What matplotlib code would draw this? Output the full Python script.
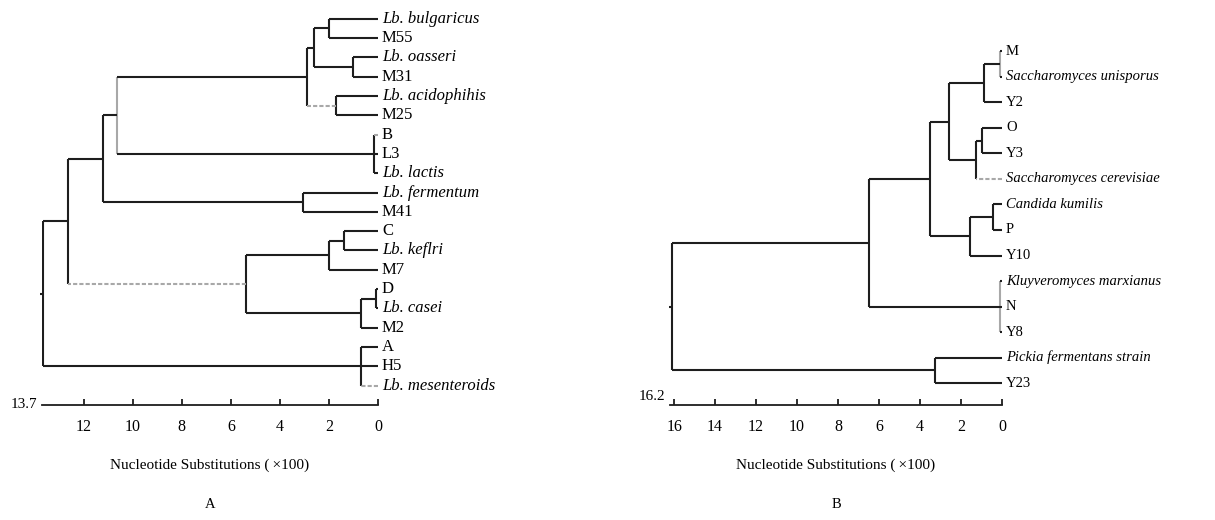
import matplotlib
matplotlib.use("Agg")
import matplotlib.pyplot as plt

plt.rcParams["font.family"] = ["Liberation Serif", "Noto Sans CJK SC"]

# Tree A: lactic acid bacteria ................................................
leaves_a = ["Lb. bulgaricus", "M55", "Lb. oasseri", "M31", "Lb. acidophihis", "M25",
            "B", "L3", "Lb. lactis", "Lb. fermentum", "M41", "C", "Lb. keflri", "M7",
            "D", "Lb. casei", "M2", "A", "H5", "Lb. mesenteroids"]
nodes_a = [("n1", ["Lb. bulgaricus", "M55"], 2.0),
           ("n2", ["Lb. oasseri", "M31"], 1.0),
           ("n3", ["n1", "n2"], 2.6),
           ("n4", ["Lb. acidophihis", "M25"], 1.7),
           ("n5", ["n3", "n4"], 2.9),
           ("n6", ["B", "L3", "Lb. lactis"], 0.15),
           ("n7", ["n5", "n6"], 10.65),
           ("n8", ["Lb. fermentum", "M41"], 3.05),
           ("n9", ["n7", "n8"], 11.2),
           ("n10", ["C", "Lb. keflri"], 1.4),
           ("n11", ["n10", "M7"], 2.0),
           ("n12", ["D", "Lb. casei"], 0.1),
           ("n13", ["n12", "M2"], 0.7),
           ("n14", ["n11", "n13"], 5.4),
           ("n15", ["n9", "n14"], 12.65),
           ("n16", ["A", "H5", "Lb. mesenteroids"], 0.7),
           ("root", ["n15", "n16"], 13.65)]
faint_a = ["n4", "n14", "Lb. mesenteroids", "B"]
faint_vert_a = ["n7"]
total_a = 13.7
ticks_a = [0, 2, 4, 6, 8, 10, 12]

# Tree B: yeasts ...............................................................
leaves_b = ["M", "Saccharomyces unisporus", "Y2", "O", "Y3", "Saccharomyces cerevisiae",
            "Candida kumilis", "P", "Y10", "Kluyveromyces marxianus", "N", "Y8",
            "Pickia fermentans strain", "Y23"]
nodes_b = [("m1", ["M", "Saccharomyces unisporus"], 0.1),
           ("m2", ["m1", "Y2"], 0.9),
           ("m3", ["O", "Y3"], 1.0),
           ("m4", ["m3", "Saccharomyces cerevisiae"], 1.25),
           ("m5", ["m2", "m4"], 2.6),
           ("m6", ["Candida kumilis", "P"], 0.45),
           ("m7", ["m6", "Y10"], 1.55),
           ("m8", ["m5", "m7"], 3.5),
           ("m9", ["Kluyveromyces marxianus", "N", "Y8"], 0.1),
           ("m10", ["m8", "m9"], 6.5),
           ("m11", ["Pickia fermentans strain", "Y23"], 3.25),
           ("root", ["m10", "m11"], 16.1)]
faint_b = ["Saccharomyces cerevisiae"]
faint_vert_b = ["m1", "m9"]
total_b = 16.2
ticks_b = [0, 2, 4, 6, 8, 10, 12, 14, 16]

xlabel = "Nucleotide Substitutions (\u2009×100)"

DARK = "#1e1e1e"
GREY = "#a8a8a8"


def draw_tree(ax, leaves, nodes, faint, faint_vert, fs):
    ypos = {name: i for i, name in enumerate(leaves)}
    height = {name: 0.0 for name in leaves}
    for name, children, h in nodes:
        ys = [ypos[c] for c in children]
        ypos[name] = (min(ys) + max(ys)) / 2
        height[name] = h
        vcol = GREY if name in faint_vert else DARK
        ax.vlines(h, min(ys), max(ys), color=vcol, lw=1.5)
        for c in children:
            if c in faint:
                ax.hlines(ypos[c], height[c], h, color=GREY, lw=1.5, linestyles=(0, (2, 1)))
            else:
                ax.hlines(ypos[c], height[c], h, color=DARK, lw=1.5)
    # root stub
    root = nodes[-1]
    ax.hlines(ypos[root[0]], root[2], root[2] + 0.15, color=DARK, lw=1.5, clip_on=False)
    for name in leaves:
        ax.annotate(name, (0, ypos[name]), xytext=(4, 0), textcoords="offset pixels",
                    va="center", ha="left", fontsize=fs,
                    style="italic" if len(name) > 3 else "normal")


fig = plt.figure(figsize=(12.15, 5.2), dpi=100)

panels = [
    (leaves_a, nodes_a, faint_a, faint_vert_a, total_a, ticks_a,
     [42 / 1215, 115 / 520, 336 / 1215, 396 / 520], (20.0, -0.5), 0, "A", 12),
    (leaves_b, nodes_b, faint_b, faint_vert_b, total_b, ticks_b,
     [670 / 1215, 115 / 520, 332 / 1215, 374 / 520], (13.86, -0.8), 9, "B", 10.5),
]

for leaves, nodes, faint, fvert, total, ticks, rect, ylim, dy, letter, fs in panels:
    ax = fig.add_axes(rect)
    draw_tree(ax, leaves, nodes, faint, fvert, fs)
    ax.set_xlim(total, 0)
    ax.set_ylim(*ylim)
    for s in ["top", "left", "right"]:
        ax.spines[s].set_visible(False)
    ax.spines["bottom"].set_color(DARK)
    ax.spines["bottom"].set_linewidth(1.3)
    ax.set_yticks([])
    ax.set_xticks(ticks)
    ax.tick_params(axis="x", direction="in", length=4, width=1.3, color=DARK,
                   pad=10, labelsize=11.5)
    ax.set_xlabel(xlabel, fontsize=11, labelpad=17)
    ax.annotate(f"{total}", (total, ylim[0]), xytext=(-5, dy), textcoords="offset pixels",
                ha="right", va="center", fontsize=11, annotation_clip=False)
    cx = rect[0] + rect[2] / 2
    fig.text(cx, 15 / 520, letter, ha="center", va="center", fontsize=10.5)

fig.savefig("out.png", dpi=100)
